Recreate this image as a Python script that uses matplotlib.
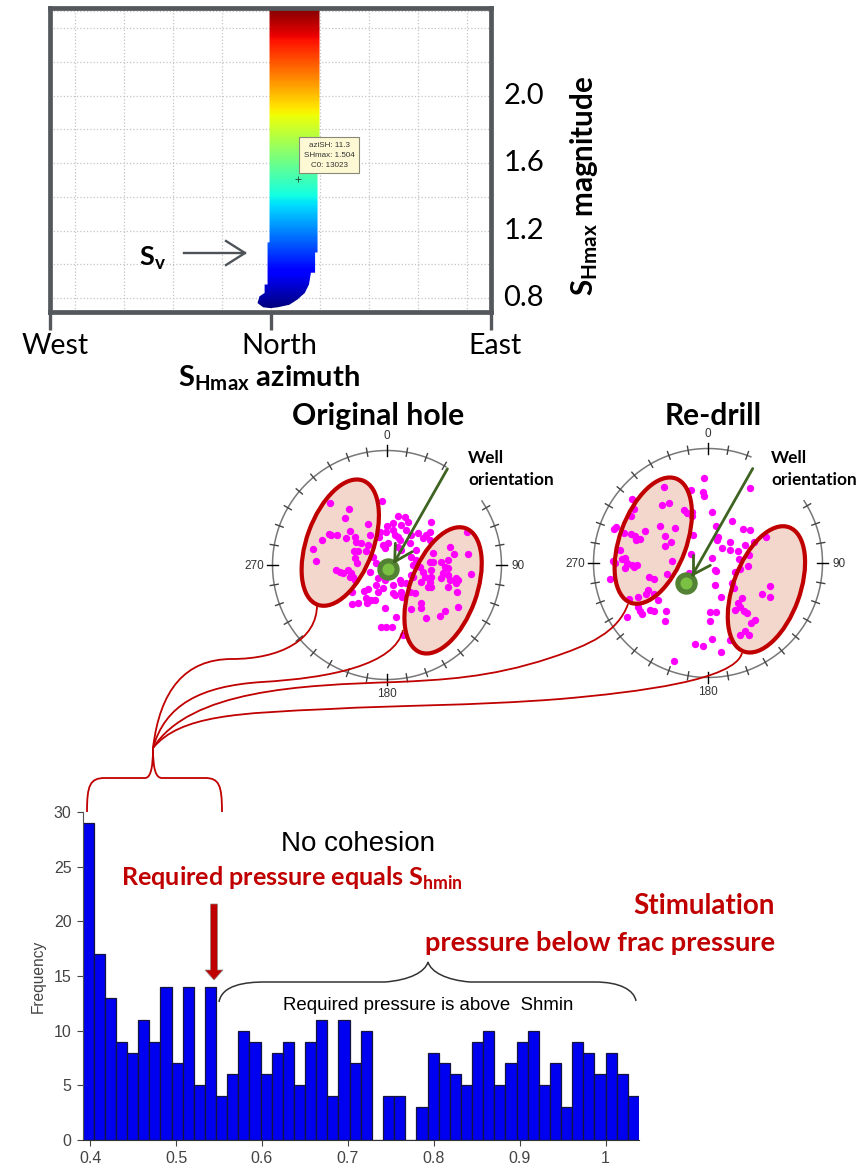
import numpy as np
import matplotlib
matplotlib.use('Agg')
import matplotlib.pyplot as plt
from matplotlib.patches import Ellipse, PathPatch, Polygon
from matplotlib.path import Path
from matplotlib.transforms import ScaledTranslation

plt.rcParams['font.family'] = ['Lato', 'DejaVu Sans']
plt.rcParams['mathtext.fontset'] = 'custom'
plt.rcParams['mathtext.rm'] = 'Lato'
plt.rcParams['mathtext.bf'] = 'Lato:bold'

W, H = 864, 1166
RED = '#c00000'
FRAME = '#54585c'

# top panel: stress polygon for SHmax azimuth / magnitude
az_ticks = [-90, 0, 90]
az_labels = ['West', 'North', 'East']
mag_ticks = [0.8, 1.2, 1.6, 2.0]
az_grid = [-80, -60, -40, -20, 0, 20, 40, 60, 80]
mag_grid = [0.8, 1.0, 1.2, 1.4, 1.6, 1.8, 2.0, 2.2, 2.4, 2.5]
band_az = [-0.4, -0.4, -1.2, -1.2, -2.4, -2.4, -4.5, -5.3, -3, 0, 3, 7.7, 10.9, 14, 15.7, 16.5, 18.2, 18.2, 19.2, 19.2, 20, 20]
band_mag = [2.52, 1.13, 1.13, 0.88, 0.88, 0.83, 0.81, 0.77, 0.745, 0.74, 0.745, 0.76, 0.79, 0.83, 0.88, 0.95, 0.95, 1.07, 1.07, 1.75, 1.75, 2.52]
pick_az, pick_mag = 11.3, 1.504

# stereonets, points (zoomed pixel positions)
orig_x = [302,357,345,457,415,360,350,297,303,323,276,250,258,375,380,395,415,420,385,372,408,375,382,318,330,340,355,365,370,360,375,367,367,385,403,415,410,412,425,435,420,440,430,460,465,448,450,470,473,490,505,527,535,515,490,530,505,497,475,510,545,565,590,600,603,580,600,540,560,545,560,550,570,580,585,605,605,575,595,605,600,635,640,655,660,678,685,680,655,682,725,715,672,660,712,655,635,645,655,610,610,600,575,575,543,590,632,645,685,498,466,455,470,487,520,445,440,465,460,445,490,495,515,517,515,530,550,545,490,540,555,510,515,505]
orig_y = [310,328,353,303,372,392,415,403,404,404,420,448,482,410,425,428,435,405,452,453,452,475,488,510,515,520,510,520,530,530,540,575,612,610,572,568,595,610,600,600,515,490,470,435,445,410,395,395,378,370,347,352,367,375,390,390,410,405,430,420,405,398,405,395,365,415,420,430,450,470,480,495,500,515,530,510,530,545,560,560,545,535,520,525,540,535,540,550,560,575,523,463,463,440,395,480,485,500,505,460,485,485,625,610,627,655,648,632,622,652,623,680,682,680,705,535,555,540,565,575,555,585,575,590,550,550,530,525,580,575,580,540,450,440]
drill_x = [430,392,428,430,568,312,215,222,305,326,372,380,395,395,455,213,160,168,190,299,343,255,212,225,238,228,315,333,314,398,467,514,548,570,472,470,486,510,510,532,555,580,617,565,535,455,393,178,158,165,185,195,200,195,215,230,222,336,150,265,280,320,262,258,282,232,205,292,233,240,245,200,270,280,318,315,465,468,525,563,540,515,465,522,483,448,467,448,545,532,540,523,552,560,604,629,629,583,572,555,538,567,508,455,405,427,483,342,385]
drill_y = [235,272,278,288,266,263,297,328,316,310,332,340,338,348,338,350,388,382,400,378,385,395,403,408,417,422,410,428,438,407,380,363,388,391,413,422,444,428,450,454,435,428,413,465,478,475,462,450,485,490,478,476,490,505,497,497,503,485,538,532,538,522,572,582,582,592,598,600,622,635,642,651,632,635,635,663,510,515,518,500,507,550,557,565,591,638,638,665,595,610,622,632,635,640,582,560,592,660,670,695,707,707,722,717,732,738,757,785,520]

# histogram
hist_edges_lo, hist_edges_hi = 0.391, 1.039
hist_counts = [29,17,13,9,8,11,9,14,7,14,5,14,4,6,10,9,6,8,9,5,9,11,4,11,7,10,0,4,4,0,3,8,7,6,5,9,10,5,7,9,10,5,7,3,9,8,6,8,6,4]
hist_xticks = [0.4, 0.5, 0.6, 0.7, 0.8, 0.9, 1.0]
hist_xlabels = ['0.4', '0.5', '0.6', '0.7', '0.8', '0.9', '1']
hist_yticks = [0, 5, 10, 15, 20, 25, 30]


def axes_px(fig, left, top, right, bottom, **kw):
    return fig.add_axes([left / W, 1 - bottom / H, (right - left) / W, (bottom - top) / H], **kw)


fig = plt.figure(figsize=(W / 100, H / 100), dpi=100)

# ---- top panel ----
ax = axes_px(fig, 50, 8, 491, 312)
ax.set_xlim(-90, 90)
ax.set_ylim(0.717, 2.52)
grad = np.linspace(2.52, 0.74, 300).reshape(-1, 1)
im = ax.imshow(grad, cmap='jet', extent=[-6, 21, 0.74, 2.52], aspect='auto', vmin=0.74, vmax=2.52, zorder=2)
clip = Polygon(np.column_stack([band_az, band_mag]), closed=True, transform=ax.transData, fc='none', ec='none')
ax.add_patch(clip)
im.set_clip_path(clip)
ax.set_xlim(-90, 90)
ax.set_ylim(0.717, 2.52)
ax.vlines(az_grid, 0.717, 2.52, color='#c4c4c4', ls=':', lw=0.9, zorder=1)
ax.hlines(mag_grid, -90, 90, color='#c4c4c4', ls=':', lw=0.9, zorder=1)
ax.set_xticks(az_ticks)
ax.set_xticklabels([])
ax.tick_params(axis='x', length=13, width=2.4, color=FRAME)
ax.yaxis.tick_right()
ax.set_yticks(mag_ticks)
ax.set_yticklabels(['%.1f' % m for m in mag_ticks], fontsize=21, color='black')
ax.tick_params(axis='y', length=0, pad=9)
for lab in ax.get_yticklabels():
    lab.set_transform(lab.get_transform() + ScaledTranslation(0, 2.5 / 100, fig.dpi_scale_trans))
for s in ax.spines.values():
    s.set_linewidth(3.4)
    s.set_color(FRAME)
ax.plot([pick_az], [pick_mag], marker='+', color='#224433', ms=4, mew=0.6, zorder=5)
ax.text(24, 1.646, 'aziSH: 11.3\nSHmax: 1.504\nC0: 13023', fontsize=5.8, family='Liberation Sans', color='#333333',
        ha='center', va='center', linespacing=1.6, zorder=6,
        bbox=dict(boxstyle='square,pad=0.55', fc='#fdf9d4', ec='#888877', lw=0.8))


# ---- stereonets ----
def stereonet(cx, cy, zx, zy, pts_x, pts_y, gap, ell1, ell2, tip, tail, head1, head2, dot):
    # cx, cy centre on the page, zx, zy the same centre in the zoomed reading
    r = 114.5
    s = 1.2
    a = axes_px(fig, cx - s * r, cy - s * r, cx + s * r, cy + s * r)
    a.set_xlim(-s, s)
    a.set_ylim(-s, s)
    a.axis('off')
    conv_x = lambda v: (np.asarray(v, dtype=float) - zx) / 343
    conv_y = lambda v: (zy - np.asarray(v, dtype=float)) / 343
    for cxe, cye in (ell1, ell2):
        a.add_patch(Ellipse((conv_x(cxe), conv_y(cye)), 2 * 100 / 343, 2 * 198 / 343, angle=-20,
                            fc='#f3d6cc', ec='none', zorder=1))
    th = np.radians(np.r_[np.linspace(gap[1], 360, 200), np.linspace(0, gap[0], 40)])
    a.plot(np.sin(th), np.cos(th), color='#787878', lw=1.1, zorder=2)
    for deg in range(0, 360, 10):
        if gap[0] < deg < gap[1]:
            continue
        big = deg % 90 == 0
        d = 0.05 if big else 0.035
        t = np.radians(deg)
        a.plot([(1 - d) * np.sin(t), (1 + d) * np.sin(t)], [(1 - d) * np.cos(t), (1 + d) * np.cos(t)],
               color='black' if big else '#444444', lw=1.0, zorder=2)
    a.scatter(conv_x(pts_x), conv_y(pts_y), s=28, color='#ff00ff', lw=0, zorder=3)
    for cxe, cye in (ell1, ell2):
        a.add_patch(Ellipse((conv_x(cxe), conv_y(cye)), 2 * 100 / 343, 2 * 198 / 343, angle=-20,
                            fc='none', ec=RED, lw=3.0, zorder=4))
    a.scatter(conv_x(dot[0]), conv_y(dot[1]), s=260, color='#548235', lw=0, zorder=5)
    a.scatter(conv_x(dot[0]), conv_y(dot[1]), s=75, color='#7ac143', lw=0, zorder=6)
    for p in (tail, head1, head2):
        a.plot(conv_x([p[0], tip[0]]), conv_y([p[1], tip[1]]), color='#3f6320', lw=2.0, zorder=7, solid_capstyle='round')
    for txt, x, y in (('0', 0, 1.125), ('90', 1.145, -0.012), ('180', 0, -1.13), ('270', -1.16, -0.012)):
        a.text(x, y, txt, fontsize=8.5, family='Liberation Sans', color='#333333', ha='center', va='center')


stereonet(387, 565, 472, 495, orig_x, orig_y, (31, 56), (332, 428), (640, 571),
          (495, 485), (653, 207), (497, 430), (548, 455), (476, 508))
stereonet(708, 563, 443, 490, drill_x, drill_y, (22, 57), (279, 423), (618, 569),
          (397, 525), (577, 207), (397, 465), (450, 497), (378, 550))

# ---- histogram ----
hx = axes_px(fig, 82.5, 812, 639, 1140)
edges = np.linspace(hist_edges_lo, hist_edges_hi, len(hist_counts) + 1)
hx.bar(edges[:-1], hist_counts, width=np.diff(edges), align='edge', color='#0000f0', edgecolor='#14143c', linewidth=0.9)
hx.set_xlim(hist_edges_lo, hist_edges_hi)
hx.set_ylim(0, 30)
hx.set_xticks(hist_xticks)
hx.set_xticklabels(hist_xlabels, fontsize=11.5, family='Liberation Sans', color='#444444')
hx.set_yticks(hist_yticks)
hx.set_yticklabels(hist_yticks, fontsize=11.5, family='Liberation Sans', color='#444444')
hx.tick_params(length=4, width=0.8, color='#444444', pad=4)
hx.set_ylabel('Frequency', fontsize=11.2, family='Liberation Sans', color='#444444', labelpad=6)
hx.spines['top'].set_visible(False)
hx.spines['right'].set_visible(False)
hx.spines['left'].set_color('#555555')
hx.spines['bottom'].set_color('#333333')
hx.patch.set_alpha(0)

# ---- page overlay in pixels: connectors and text ----
ov = fig.add_axes([0, 0, 1, 1], zorder=10)
ov.set_xlim(0, W)
ov.set_ylim(H, 0)
ov.axis('off')
ov.patch.set_alpha(0)


def bezier(start, *segs, color=RED, lw=1.3):
    verts = [start]
    codes = [Path.MOVETO]
    for seg in segs:
        verts += list(seg)
        codes += [Path.CURVE4] * 3
    ov.add_patch(PathPatch(Path(verts, codes), fc='none', ec=color, lw=lw))


bezier((317, 605), ((317, 640), (280, 659), (232, 659)), ((185, 659), (160, 690), (153, 748)))
bezier((403, 630), ((395, 665), (330, 678), (262, 682)), ((200, 686), (165, 705), (153, 748)))
bezier((628, 604), ((618, 632), (590, 645), (550, 658)), ((490, 678), (440, 680), (397, 682)), ((300, 685), (190, 690), (153, 748)))
bezier((742, 653), ((735, 680), (640, 692), (560, 699)), ((470, 706), (400, 705), (330, 709)), ((240, 713), (180, 715), (153, 748)))
# red brace over the first bars
bezier((87, 812), ((87, 785), (90, 778), (105, 778)), ((120, 778), (135, 778), (145, 778)), ((150, 778), (153, 770), (153, 748)))
bezier((222, 812), ((222, 785), (219, 778), (205, 778)), ((190, 778), (175, 778), (162, 778)), ((156, 778), (153, 770), (153, 748)))
# black brace over the other bars
bezier((219, 1002), ((222, 985), (245, 982), (265, 982)), ((310, 982), (360, 982), (385, 982)), ((410, 980), (425, 972), (428, 962)),
       ((431, 972), (446, 980), (470, 982)), ((510, 982), (560, 982), (595, 982)), ((620, 982), (634, 990), (636, 1001)), color='#333333', lw=1.1)

# S_v arrow
ov.plot([184, 245], [253, 253], color='#4d5358', lw=1.7)
ov.plot([226, 245, 226], [241, 253, 265], color='#4d5358', lw=1.7)
# red arrow at the frac pressure bar
ov.add_patch(Polygon([(210.5, 904), (217.5, 904), (217.5, 970), (223, 970), (214, 980), (205, 970), (210.5, 970)],
                     closed=True, fc=RED, ec='#8a8a8a', lw=0.5))

ov.text(139, 258, r'$\mathbf{S_{v}}$', fontsize=19.5, color='black', ha='left', va='center')
ov.text(22, 346, 'West', fontsize=20.5, va='center')
ov.text(241, 346, 'North', fontsize=21, va='center')
ov.text(468, 346, 'East', fontsize=20.5, va='center')
ov.text(178, 378, r'$\mathbf{S_{Hmax}}$ azimuth', fontsize=21, fontweight='bold', va='center')
ov.text(584, 186, r'$\mathbf{S_{Hmax}}$ magnitude', fontsize=21.3, fontweight='bold', rotation=90, ha='center', va='center')
ov.text(378, 416, 'Original hole', fontsize=21.7, fontweight='bold', ha='center', va='center')
ov.text(713, 416, 'Re-drill', fontsize=21.5, fontweight='bold', ha='center', va='center')
ov.text(468, 469, 'Well\norientation', fontsize=12.4, fontweight='bold', va='center', linespacing=1.4)
ov.text(771, 469, 'Well\norientation', fontsize=12.4, fontweight='bold', va='center', linespacing=1.4)
ov.text(358, 844, 'No cohesion', fontsize=20, family='Liberation Sans', ha='center', va='center')
ov.text(121, 878, r'Required pressure equals S$_{\mathbf{hmin}}$', fontsize=18.1, fontweight='bold', color=RED, va='center')
ov.text(775, 906, 'Stimulation', fontsize=20, fontweight='bold', color=RED, ha='right', va='center')
ov.text(775, 943, 'pressure below frac pressure', fontsize=19.7, fontweight='bold', color=RED, ha='right', va='center')
ov.text(428, 1006, 'Required pressure is above  Shmin', fontsize=13.4, family='Liberation Sans', ha='center', va='center')

fig.savefig('out.png', dpi=100)
